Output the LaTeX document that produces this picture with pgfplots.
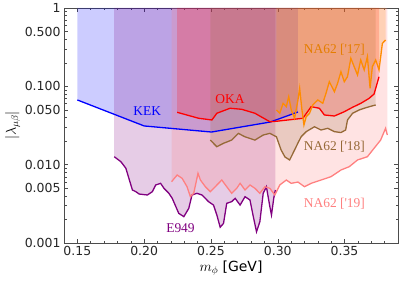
\documentclass[border=0pt]{standalone}
\usepackage{fontspec}
\setmainfont{DejaVu Sans}
\newfontfamily\labelfont{Liberation Serif}
\usepackage{pgfplots}
\usepackage{pgfplotstable}
\pgfplotsset{compat=1.18}
\usepgfplotslibrary{fillbetween}

\definecolor{kekc}{RGB}{0,0,255}
\definecolor{okac}{RGB}{255,0,0}
\definecolor{nasev}{RGB}{255,140,0}
\definecolor{naeig}{RGB}{150,105,55}
\definecolor{nanin}{RGB}{255,128,128}
\definecolor{ecol}{RGB}{128,0,128}

\pgfplotstableread{
x y
0.1500 0.0670
0.2000 0.0312
0.2504 0.0261
0.2943 0.0350
0.3151 0.0470
}\tKEK

\pgfplotstableread{
x y
0.2247 0.0466
0.2408 0.0391
0.2507 0.0372
0.2544 0.0453
0.2643 0.0525
0.2730 0.0509
0.2829 0.0453
0.2941 0.0353
0.2990 0.0358
0.3188 0.0391
0.3250 0.0550
0.3311 0.0525
0.3349 0.0431
0.3424 0.0418
0.3498 0.0474
0.3560 0.0540
0.3622 0.0607
0.3684 0.0703
0.3721 0.0798
0.3758 0.1327
}\tOKA

\pgfplotstableread{
x y
0.2990 0.0499
0.3015 0.0453
0.3040 0.0607
0.3064 0.0550
0.3082 0.0738
0.3101 0.0499
0.3126 0.0391
0.3151 0.0669
0.3164 0.0944
0.3181 0.0499
0.3196 0.0321
0.3213 0.0410
0.3238 0.0453
0.3262 0.0578
0.3300 0.0669
0.3337 0.0607
0.3361 0.0815
0.3386 0.1146
0.3424 0.0854
0.3448 0.1093
0.3473 0.1538
0.3498 0.1146
0.3522 0.1327
0.3547 0.2280
0.3572 0.1780
0.3597 0.1396
0.3621 0.2170
0.3647 0.1617
0.3671 0.2390
0.3691 0.0944
0.3708 0.1780
0.3733 0.2170
0.3758 0.1617
0.3783 0.3540
0.3807 0.3900
}\tNAa

\pgfplotstableread{
x y
0.2495 0.0206
0.2544 0.01695
0.2594 0.01875
0.2655 0.0206
0.2705 0.0251
0.2754 0.0227
0.2829 0.0206
0.2891 0.0239
0.2941 0.0251
0.2990 0.0227
0.3025 0.0154
0.3054 0.01253
0.3089 0.01148
0.3126 0.0154
0.3151 0.0189
0.3175 0.0227
0.3213 0.0264
0.3275 0.0305
0.3324 0.0277
0.3374 0.0291
0.3424 0.0264
0.3473 0.0257
0.3508 0.0277
0.3522 0.0372
0.3560 0.0453
0.3609 0.0499
0.3647 0.0525
0.3696 0.0556
0.3733 0.0578
}\tNAb

\pgfplotstableread{
x y
0.2205 0.00606
0.2247 0.00738
0.2284 0.00670
0.2321 0.00523
0.2346 0.00390
0.2371 0.00431
0.2403 0.00776
0.2421 0.00637
0.2458 0.00523
0.2495 0.00452
0.2532 0.00523
0.2581 0.00637
0.2618 0.00523
0.2655 0.00431
0.2693 0.00499
0.2718 0.00578
0.2755 0.00475
0.2792 0.00550
0.2829 0.00499
0.2866 0.00431
0.2904 0.00523
0.2941 0.00499
0.2978 0.00410
0.3015 0.00550
0.3064 0.00637
0.3101 0.00578
0.3151 0.00600
0.3200 0.00523
0.3250 0.00578
0.3324 0.00637
0.3398 0.00702
0.3473 0.00855
0.3535 0.00942
0.3597 0.01148
0.3671 0.01264
0.3721 0.01620
0.3770 0.02060
0.3807 0.02910
0.3820 0.02390
}\tNAc

\pgfplotstableread{
x y
0.1776 0.01264
0.1826 0.01090
0.1863 0.00900
0.1912 0.00475
0.1938 0.00452
0.1962 0.00422
0.2024 0.00410
0.2061 0.00452
0.2086 0.00550
0.2123 0.00578
0.2148 0.00499
0.2185 0.00431
0.2210 0.00372
0.2259 0.00239
0.2297 0.00217
0.2334 0.00277
0.2358 0.00410
0.2395 0.00431
0.2433 0.00410
0.2482 0.00337
0.2519 0.00305
0.2544 0.00228
0.2569 0.00159
0.2594 0.00178
0.2618 0.00321
0.2655 0.00337
0.2681 0.00372
0.2718 0.00305
0.2755 0.00390
0.2792 0.00354
0.2817 0.00217
0.2841 0.00139
0.2866 0.00187
0.2891 0.00431
0.2915 0.00523
0.2941 0.00290
0.2953 0.00228
0.2970 0.00372
0.2982 0.00475
}\tE

\begin{document}
\begin{tikzpicture}
\begin{axis}[
  name=ax,
  scale only axis,
  width=334bp, height=235bp,
  xmin=0.14, xmax=0.39,
  ymin=0.001, ymax=1,
  ymode=log,
  axis line style={black!70, line width=0.6bp},
  every tick/.style={black!70, line width=0.5bp},
  major tick length=4bp,
  minor tick length=2.5bp,
  xtick={0.15,0.20,0.25,0.30,0.35},
  xticklabels={0.15,0.20,0.25,0.30,0.35},
  minor xtick={0.16,0.17,0.18,0.19,0.21,0.22,0.23,0.24,0.26,0.27,0.28,0.29,0.31,0.32,0.33,0.34,0.36,0.37,0.38},
  ytick={0.001,0.005,0.01,0.05,0.1,0.5,1},
  yticklabels={0.001,0.005,0.010,0.050,0.100,0.500,1},
  minor ytick={0.002,0.003,0.004,0.006,0.007,0.008,0.009,0.02,0.03,0.04,0.06,0.07,0.08,0.09,0.2,0.3,0.4,0.6,0.7,0.8,0.9},
  tick label style={font=\fontsize{12.5}{14}\selectfont, text=black!85},
  xlabel={$m_\phi$ [GeV]},
  ylabel={$|\lambda_{\mu\beta}|$},
  label style={font=\fontsize{14}{16}\selectfont},
  xlabel style={yshift=2bp},
  ylabel style={yshift=-2bp},
]
\addplot[name path=tkek, draw=none, forget plot] coordinates {(0.1500,1) (0.3151,1)};
\addplot[name path=te, draw=none, forget plot] coordinates {(0.1776,1) (0.2982,1)};
\addplot[name path=tnac, draw=none, forget plot] coordinates {(0.2205,1) (0.3820,1)};
\addplot[name path=toka, draw=none, forget plot] coordinates {(0.2247,1) (0.3758,1)};
\addplot[name path=tnab, draw=none, forget plot] coordinates {(0.2495,1) (0.3733,1)};
\addplot[name path=tnaa, draw=none, forget plot] coordinates {(0.2990,1) (0.3807,1)};

\addplot[name path=kek, draw=none, forget plot] table[x=x,y=y]{\tKEK};
\addplot[name path=e949, draw=none, forget plot] table[x=x,y=y]{\tE};
\addplot[name path=nac, draw=none, forget plot] table[x=x,y=y]{\tNAc};
\addplot[name path=nab, draw=none, forget plot] table[x=x,y=y]{\tNAb};
\addplot[name path=oka, draw=none, forget plot] table[x=x,y=y]{\tOKA};
\addplot[name path=naa, draw=none, forget plot] table[x=x,y=y]{\tNAa};

\addplot[fill=kekc, fill opacity=0.2, draw=none] fill between[of=kek and tkek];
\addplot[fill=ecol, fill opacity=0.2, draw=none] fill between[of=e949 and te];
\addplot[fill=nanin, fill opacity=0.22, draw=none] fill between[of=nac and tnac];
\addplot[fill=okac, fill opacity=0.2, draw=none] fill between[of=oka and toka];
\addplot[fill=naeig, fill opacity=0.2, draw=none] fill between[of=nab and tnab];
\addplot[fill=nasev, fill opacity=0.2, draw=none] fill between[of=naa and tnaa];

\addplot[kekc, line width=1.3bp] table[x=x,y=y]{\tKEK};
\addplot[ecol, line width=1.3bp] table[x=x,y=y]{\tE};
\addplot[nanin, line width=1.3bp] table[x=x,y=y]{\tNAc};
\addplot[naeig, line width=1.3bp] table[x=x,y=y]{\tNAb};
\addplot[okac, line width=1.3bp] table[x=x,y=y]{\tOKA};
\addplot[nasev, line width=1.3bp] table[x=x,y=y]{\tNAa};

\node[kekc, font=\labelfont\fontsize{13.5}{15}\selectfont] at (axis cs:0.2023,0.0484) {KEK};
\node[okac, font=\labelfont\fontsize{13.5}{15}\selectfont] at (axis cs:0.2643,0.0683) {OKA};
\node[nasev!90!black, font=\labelfont\fontsize{13.5}{15}\selectfont] at (axis cs:0.3424,0.291) {NA62 ['17]};
\node[naeig, font=\labelfont\fontsize{13.5}{15}\selectfont] at (axis cs:0.3424,0.01695) {NA62 ['18]};
\node[nanin, font=\labelfont\fontsize{13.5}{15}\selectfont] at (axis cs:0.3424,0.00321) {NA62 ['19]};
\node[ecol, font=\labelfont\fontsize{13.5}{15}\selectfont] at (axis cs:0.2272,0.00154) {E949};
\end{axis}
\pgfresetboundingbox
\path (ax.south west) ++(-64bp,-48bp) rectangle ++(402bp,291bp);
\end{tikzpicture}
\end{document}
